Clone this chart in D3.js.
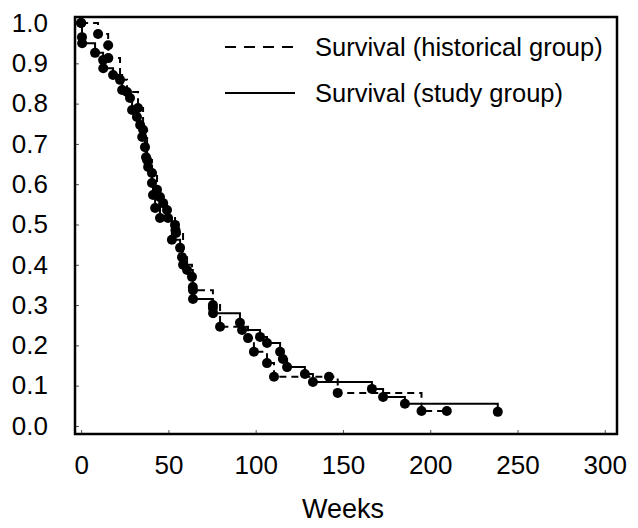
<!DOCTYPE html>
<html><head><meta charset="utf-8">
<script src="https://cdn.jsdelivr.net/npm/d3@7"></script>
<style>
body{margin:0;background:#fff}
svg{display:block}
text{font-family:"Liberation Sans",Arial,Helvetica,sans-serif;fill:#000}
</style>
</head><body>
<svg id="chart" width="638" height="528"></svg>
<script>
// Study group (solid) – event times (weeks) and survival proportion
const studyWeeks = [0, 0.5, 0.6, 8, 12.6, 12.7, 18.3, 23.5, 28, 29.2, 32, 33.8, 35, 36.6, 37.2, 38.4, 40.6, 41.2, 42.4, 45.2, 52, 56.7, 57.8, 60.7, 64, 64.1, 75.5, 75.6, 91, 92.2, 102.5, 106.5, 114, 115.6, 118, 128.2, 132.8, 166.6, 173, 185.5, 238.7];
const studySurv  = [1.0, 0.965, 0.95, 0.926, 0.908, 0.888, 0.871, 0.834, 0.814, 0.784, 0.767, 0.747, 0.717, 0.692, 0.667, 0.643, 0.603, 0.573, 0.541, 0.516, 0.462, 0.442, 0.419, 0.387, 0.345, 0.315, 0.293, 0.280, 0.256, 0.238, 0.221, 0.206, 0.184, 0.166, 0.146, 0.129, 0.109, 0.092, 0.072, 0.055, 0.035];

// Historical group (dashed)
const histWeeks = [0, 9.7, 15.5, 15.6, 22.3, 26.3, 32.6, 35.5, 37.8, 40.6, 43.5, 45.2, 47, 49.2, 49.8, 53.8, 54.1, 54.4, 58.4, 63.5, 64.1, 75.5, 79.6, 95.6, 99, 106.5, 110.5, 142, 147, 195, 209.5];
const histSurv  = [1.0, 0.973, 0.945, 0.913, 0.859, 0.829, 0.789, 0.735, 0.66, 0.628, 0.586, 0.568, 0.553, 0.536, 0.516, 0.499, 0.486, 0.479, 0.40, 0.37, 0.337, 0.30, 0.246, 0.218, 0.184, 0.156, 0.122, 0.122, 0.082, 0.037, 0.037];

const xTicks = [0, 50, 100, 150, 200, 250, 300];
const yTicks = [0, 0.1, 0.2, 0.3, 0.4, 0.5, 0.6, 0.7, 0.8, 0.9, 1.0];
const xTitle = "Weeks";
const legendLabels = ["Survival (historical group)", "Survival (study group)"];

const svg = d3.select("#chart");
const pL = 75, pR = 617, pT = 17, pB = 434;
const x = d3.scaleLinear().domain([-3.5, 307]).range([pL, pR]);
const y = d3.scaleLinear().domain([-0.02, 1.015]).range([pB, pT]);
const FS = 26;

// Axes
const yAxis = d3.axisLeft(y).tickValues(yTicks).tickFormat(d3.format(".1f"))
  .tickSizeInner(-4).tickSizeOuter(0).tickPadding(27);
const gy = svg.append("g").attr("transform", `translate(${pL},0)`).call(yAxis);
const xAxis = d3.axisBottom(x).tickValues(xTicks).tickFormat(d3.format("d"))
  .tickSizeInner(-4).tickSizeOuter(0).tickPadding(22);
const gx = svg.append("g").attr("transform", `translate(0,${pB})`).call(xAxis);
[gx, gy].forEach(g => {
  g.select(".domain").remove();
  g.selectAll(".tick line").attr("stroke", "#555").attr("stroke-width", 1);
  g.selectAll(".tick text").attr("font-size", FS).attr("font-family", "Liberation Sans, Arial, sans-serif").attr("fill", "#000");
});

// Frame
svg.append("rect").attr("x", pL).attr("y", pT)
  .attr("width", pR - pL).attr("height", pB - pT)
  .attr("fill", "none").attr("stroke", "#000").attr("stroke-width", 2.5);

// Axis title
svg.append("text").attr("x", 343).attr("y", 518)
  .attr("text-anchor", "middle").attr("font-size", 27).text(xTitle);

const line = d3.line().x(d => x(d[0])).y(d => y(d[1])).curve(d3.curveStepAfter);
const hist = histWeeks.map((t, i) => [t, histSurv[i]]);
const study = studyWeeks.map((t, i) => [t, studySurv[i]]);

svg.append("path").datum(hist).attr("d", line).attr("fill", "none")
  .attr("stroke", "#000").attr("stroke-width", 2).attr("stroke-dasharray", "7,5");
svg.append("path").datum(study).attr("d", line).attr("fill", "none")
  .attr("stroke", "#000").attr("stroke-width", 2);

svg.append("g").selectAll("circle").data(hist.concat(study)).join("circle")
  .attr("cx", d => x(d[0])).attr("cy", d => y(d[1])).attr("r", 5).attr("fill", "#000");

// Legend
const leg = svg.append("g");
[[47, "11,8"], [93, null]].forEach(([ly, dash], i) => {
  const l = leg.append("line").attr("x1", 225).attr("x2", 295).attr("y1", ly).attr("y2", ly)
    .attr("stroke", "#000").attr("stroke-width", 2);
  if (dash) l.attr("stroke-dasharray", dash);
  leg.append("text").attr("x", 315).attr("y", ly).attr("dy", "0.35em")
    .attr("font-size", 25.5).text(legendLabels[i]);
});
</script>
</body></html>
